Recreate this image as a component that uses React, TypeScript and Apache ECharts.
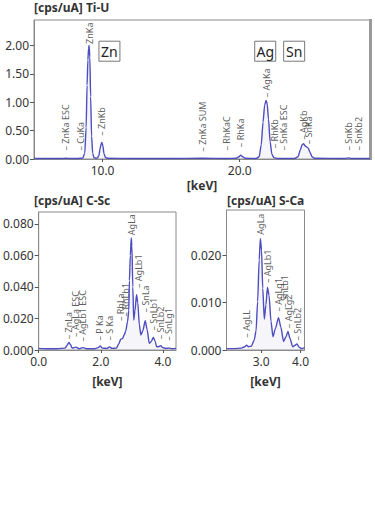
import React, { useEffect, useRef } from "react";
import * as echarts from "echarts";

const FONT = "Noto Sans";
const LINE = "#4d4dc0";
const FILL = "rgba(190,190,225,0.22)";
const TEXT = "#333";
const BORDER = "#8a8a8a";

// ---- Top chart: Ti-U ----
const tiuSpectrum: [number, number][] = [
  [5.0, 0.008], [6.0, 0.008], [7.0, 0.009], [7.33, 0.012], [7.6, 0.009], [8.2, 0.01], [8.55, 0.015],
  [8.7, 0.1], [8.8, 0.55], [8.87, 1.3], [8.93, 1.75], [8.98, 1.95], [9.02, 2.0], [9.07, 1.8], [9.13, 1.1],
  [9.2, 0.4], [9.28, 0.1], [9.38, 0.02], [9.6, 0.015], [9.72, 0.05], [9.82, 0.18], [9.9, 0.27], [9.95, 0.29],
  [10.02, 0.24], [10.1, 0.1], [10.2, 0.03], [10.35, 0.012], [12.0, 0.01], [15.0, 0.01], [17.28, 0.012],
  [19.0, 0.01], [19.75, 0.012], [19.92, 0.035], [20.07, 0.065], [20.22, 0.04], [20.4, 0.012], [21.2, 0.01],
  [21.42, 0.04], [21.57, 0.25], [21.7, 0.65], [21.82, 0.95], [21.92, 1.03], [22.0, 0.98], [22.1, 0.7],
  [22.22, 0.3], [22.35, 0.08], [22.5, 0.02], [22.8, 0.01], [24.0, 0.01], [24.25, 0.04], [24.42, 0.16],
  [24.55, 0.25], [24.66, 0.27], [24.78, 0.23], [24.9, 0.21], [25.0, 0.19], [25.12, 0.12], [25.28, 0.04],
  [25.45, 0.012], [27.75, 0.01], [27.94, 0.02], [28.1, 0.01], [29.5, 0.008],
];
const tiuLabelNames = ["– ZnKa ESC", "– CuKa", "ZnKa", "– ZnKb", "– ZnKa SUM", "– RhKaC", "– RhKa", "– AgKa", "– RhKb", "– SnKa ESC", "– AgKb", "– SnKa", "– SnKb", "– SnKb2"];
const tiuLabelKeV = [7.33, 8.42, 9.02, 9.95, 17.28, 19.05, 20.07, 21.94, 22.55, 23.18, 24.64, 25.03, 27.94, 28.67];
const tiuLabelBase = [0.14, 0.14, 2.02, 0.4, 0.12, 0.14, 0.2, 1.08, 0.18, 0.14, 0.33, 0.25, 0.14, 0.14];
const tiuYTicks = [0, 0.5, 1.0, 1.5, 2.0];
const tiuXTicks = [10, 20];
const elementNames = ["Zn", "Ag", "Sn"];
const elementKeV = [10.5, 21.86, 23.97];
const elementY = [1.9, 1.9, 1.9];

// ---- Bottom left: C-Sc ----
const cscSpectrum: [number, number][] = [
  [0, 0.001], [0.3, 0.0008], [0.6, 0.0008], [0.85, 0.0012], [0.92, 0.003], [0.97, 0.0048], [1.02, 0.0035],
  [1.08, 0.0012], [1.2, 0.0018], [1.3, 0.0008], [1.42, 0.0015], [1.55, 0.0008], [1.8, 0.0008], [1.92, 0.0015],
  [1.98, 0.0025], [2.05, 0.0012], [2.2, 0.001], [2.28, 0.002], [2.36, 0.001], [2.5, 0.0012], [2.58, 0.004],
  [2.64, 0.0068], [2.7, 0.0072], [2.75, 0.0095], [2.8, 0.0118], [2.86, 0.018], [2.9, 0.025], [2.92, 0.044],
  [2.95, 0.06], [2.98, 0.071], [3.0, 0.066], [3.03, 0.04], [3.06, 0.019], [3.1, 0.025], [3.15, 0.035],
  [3.19, 0.03], [3.24, 0.016], [3.29, 0.0095], [3.35, 0.012], [3.43, 0.0185], [3.49, 0.013], [3.56, 0.0042],
  [3.63, 0.0055], [3.69, 0.008], [3.75, 0.0055], [3.8, 0.002], [3.87, 0.0022], [3.93, 0.0028], [3.99, 0.0015],
  [4.1, 0.001], [4.2, 0.0012], [4.3, 0.0008], [4.42, 0.001],
];
const cscLabelNames = ["– ZnLa", "– AgLa ESC", "– AgLb1 ESC", "– P Ka", "– S Ka", "– RhLa", "– RhLb1", "AgLa", "– AgLb1", "– SnLa", "– SnLb1", "– SnLb2", "– SnLg1"];
const cscLabelKeV = [0.96, 1.18, 1.41, 1.97, 2.27, 2.64, 2.8, 2.98, 3.2, 3.43, 3.7, 3.93, 4.17];
const cscLabelBase = [0.0065, 0.008, 0.005, 0.0057, 0.0057, 0.018, 0.021, 0.0725, 0.039, 0.0235, 0.012, 0.0065, 0.0055];
const cscYTicks = [0, 0.02, 0.04, 0.06, 0.08];
const cscXTicks = [0, 2, 4];

// ---- Bottom right: S-Ca ----
const scaSpectrum: [number, number][] = [
  [2.12, 0.0003], [2.3, 0.0003], [2.5, 0.0004], [2.58, 0.0007], [2.63, 0.001], [2.68, 0.0007], [2.75, 0.0008],
  [2.82, 0.002], [2.87, 0.004], [2.91, 0.0102], [2.95, 0.019], [2.98, 0.0235], [3.01, 0.021], [3.04, 0.013],
  [3.08, 0.0065], [3.12, 0.0095], [3.16, 0.0132], [3.2, 0.0115], [3.25, 0.006], [3.3, 0.0028], [3.36, 0.0045],
  [3.44, 0.0068], [3.5, 0.0048], [3.57, 0.0018], [3.63, 0.0028], [3.68, 0.0039], [3.73, 0.0025], [3.8, 0.0007],
  [3.86, 0.001], [3.91, 0.0013], [3.96, 0.0006], [4.03, 0.0003], [4.1, 0.0005],
];
const scaLabelNames = ["– AgLL", "AgLa", "– AgLb1", "– AgLg1", "– SnLb1", "– AgLg2", "– SnLb2"];
const scaLabelKeV = [2.63, 2.98, 3.16, 3.44, 3.6, 3.69, 3.91];
const scaLabelBase = [0.0025, 0.0242, 0.014, 0.008, 0.0088, 0.0045, 0.0019];
const scaYTicks = [0, 0.01, 0.02];
const scaXTicks = [3, 4];

function lineSeries(data: [number, number][], idx: number) {
  return {
    type: "line",
    xAxisIndex: idx,
    yAxisIndex: idx,
    data,
    showSymbol: false,
    smooth: 0.25,
    smoothMonotone: "x",
    lineStyle: { color: LINE, width: 1.4 },
    areaStyle: { color: FILL },
    silent: true,
  };
}

function labelSeries(names: string[], kev: number[], base: number[], idx: number) {
  return {
    type: "scatter",
    xAxisIndex: idx,
    yAxisIndex: idx,
    symbolSize: 1,
    itemStyle: { color: "rgba(0,0,0,0)" },
    silent: true,
    data: names.map((n, i) => ({ value: [kev[i], base[i]], name: n })),
    label: {
      show: true,
      position: "top",
      distance: 0,
      rotate: 90,
      align: "left",
      verticalAlign: "middle",
      formatter: (p: any) => p.name,
      fontFamily: FONT,
      fontSize: 9,
      color: TEXT,
    },
  };
}

function xAxis(idx: number, min: number, max: number, ticks: number[], gap: number) {
  return {
    type: "value",
    gridIndex: idx,
    min,
    max,
    name: "[keV]",
    nameLocation: "middle",
    nameGap: gap,
    nameTextStyle: { fontFamily: FONT, fontSize: 12, fontWeight: "bold", color: TEXT },
    axisLine: { show: true, lineStyle: { color: BORDER } },
    axisTick: { show: true, length: 3, customValues: ticks, lineStyle: { color: "#555" } },
    axisLabel: {
      customValues: ticks,
      formatter: (v: number) => v.toFixed(1),
      fontFamily: FONT,
      fontSize: 12,
      color: TEXT,
      margin: 5,
    },
    splitLine: { show: false },
  };
}

function yAxis(idx: number, max: number, ticks: number[], digits: number) {
  return {
    type: "value",
    gridIndex: idx,
    min: 0,
    max,
    axisLine: { show: true, lineStyle: { color: BORDER } },
    axisTick: { show: true, length: 4, customValues: ticks, lineStyle: { color: "#555" } },
    axisLabel: {
      customValues: ticks,
      formatter: (v: number) => v.toFixed(digits),
      fontFamily: FONT,
      fontSize: 12,
      color: TEXT,
      margin: 5,
    },
    splitLine: { show: false },
  };
}

const option: any = {
  animation: false,
  backgroundColor: "#fff",
  grid: [
    { left: 34, top: 20, width: 336, height: 139, show: true, borderColor: BORDER, borderWidth: 1, backgroundColor: "transparent" },
    { left: 35, top: 212, width: 141, height: 138, show: true, borderColor: BORDER, borderWidth: 1, backgroundColor: "transparent" },
    { left: 226.5, top: 210, width: 78, height: 140, show: true, borderColor: BORDER, borderWidth: 1, backgroundColor: "transparent" },
  ],
  xAxis: [
    xAxis(0, 5, 29.5, tiuXTicks, 20),
    xAxis(1, 0, 4.42, cscXTicks, 25),
    xAxis(2, 2.12, 4.1, scaXTicks, 25),
  ],
  yAxis: [
    yAxis(0, 2.45, tiuYTicks, 2),
    yAxis(1, 0.0875, cscYTicks, 3),
    yAxis(2, 0.0295, scaYTicks, 3),
  ],
  series: [
    lineSeries(tiuSpectrum, 0),
    lineSeries(cscSpectrum, 1),
    lineSeries(scaSpectrum, 2),
    labelSeries(tiuLabelNames, tiuLabelKeV, tiuLabelBase, 0),
    labelSeries(cscLabelNames, cscLabelKeV, cscLabelBase, 1),
    labelSeries(scaLabelNames, scaLabelKeV, scaLabelBase, 2),
  ],
};

export default function App() {
  const ref = useRef<HTMLDivElement>(null);
  useEffect(() => {
    const chart = echarts.init(ref.current!, null, { renderer: "svg" });
    chart.setOption(option);
    const titleStyle = { fontFamily: FONT, fontSize: 12, fontWeight: "bold", fill: TEXT };
    const boxes = elementNames.map((n, i) => {
      const p = chart.convertToPixel({ xAxisIndex: 0, yAxisIndex: 0 }, [elementKeV[i], elementY[i]]) as number[];
      return {
        type: "group",
        x: p[0],
        y: p[1],
        children: [
          { type: "rect", shape: { x: -10.5, y: -10, width: 21, height: 20 }, style: { fill: "#fff", stroke: "#777", lineWidth: 1 } },
          { type: "text", style: { text: n, x: 0, y: 0, align: "center", verticalAlign: "middle", fontFamily: FONT, fontSize: 14, fill: "#222" } },
        ],
      };
    });
    chart.setOption({
      graphic: [
        { type: "text", left: 34, top: 1, style: { text: "[cps/uA] Ti-U", ...titleStyle } },
        { type: "text", left: 34, top: 194, style: { text: "[cps/uA] C-Sc", ...titleStyle } },
        { type: "text", left: 227, top: 194, style: { text: "[cps/uA] S-Ca", ...titleStyle } },
        { type: "rect", shape: { x: 369, y: 19, width: 3, height: 141 }, style: { fill: "#9a9a9a" } },
        ...boxes,
      ],
    });
    return () => chart.dispose();
  }, []);
  return <div ref={ref} style={{ position: "absolute", left: 0, top: 0, width: 375, height: 512 }} />;
}
